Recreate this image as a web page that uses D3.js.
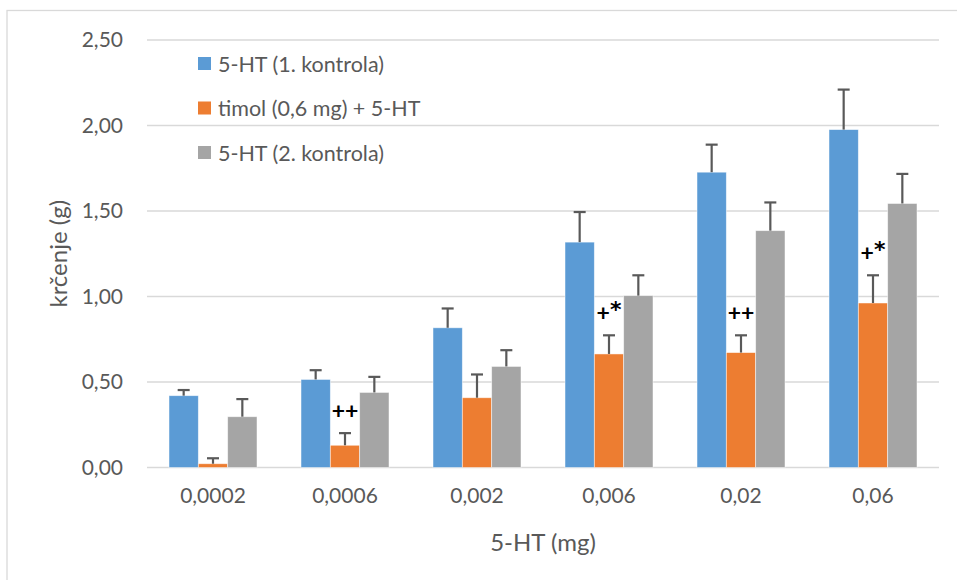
<!DOCTYPE html>
<html>
<head>
<meta charset="utf-8">
<script src="https://cdn.jsdelivr.net/npm/d3@7"></script>
<style>
  body { margin: 0; background: #fff; }
  text { font-family: Lato, "Open Sans", sans-serif; fill: #595959; }
</style>
</head>
<body>
<div id="chart"></div>
<script>
// doses on the x axis
var categories = ["0,0002", "0,0006", "0,002", "0,006", "0,02", "0,06"];
var seriesNames = ["5-HT (1. kontrola)", "timol (0,6 mg) + 5-HT", "5-HT (2. kontrola)"];
var seriesColors = ["#5B9BD5", "#ED7D31", "#A5A5A5"];

// means (g)
var kontrola1 = [0.42, 0.515, 0.817, 1.318, 1.727, 1.976];
var timol = [0.022, 0.13, 0.408, 0.664, 0.672, 0.962];
var kontrola2 = [0.297, 0.439, 0.591, 1.005, 1.385, 1.544];

// error (upper only)
var kontrola1Err = [0.033, 0.054, 0.113, 0.176, 0.161, 0.234];
var timolErr = [0.032, 0.071, 0.136, 0.109, 0.101, 0.162];
var kontrola2Err = [0.103, 0.091, 0.095, 0.119, 0.165, 0.173];

// significance marks above timol bars
var sigLabels = ["", "++", "", "+*", "++", "+*"];

var yTicks = [0, 0.5, 1, 1.5, 2, 2.5];

var width = 957, height = 580;
var margin = {top: 40, right: 18, bottom: 113, left: 147};

var svg = d3.select("#chart").append("svg")
    .attr("width", width)
    .attr("height", height);

// chart frame
svg.append("rect")
    .attr("x", 7).attr("y", 10.5)
    .attr("width", width).attr("height", height)
    .attr("fill", "none")
    .attr("stroke", "#D9D9D9")
    .attr("stroke-width", 1.3);

var x = d3.scaleBand()
    .domain(categories)
    .range([margin.left, width - margin.right])
    .paddingInner(1 / 3)
    .paddingOuter(1 / 6);

var xs = d3.scaleBand()
    .domain([0, 1, 2])
    .range([0, x.bandwidth()]);

var y = d3.scaleLinear()
    .domain([0, 2.5])
    .range([467.5, margin.top]);

// gridlines
svg.append("g").selectAll("line")
    .data(yTicks)
    .join("line")
    .attr("x1", margin.left).attr("x2", width - margin.right)
    .attr("y1", function(d) { return y(d); })
    .attr("y2", function(d) { return y(d); })
    .attr("stroke", "#D9D9D9")
    .attr("stroke-width", 1.3);

// y axis labels
var yAxis = svg.append("g")
    .attr("transform", "translate(" + margin.left + ",0)")
    .call(d3.axisLeft(y).tickValues(yTicks).tickSize(0).tickPadding(24)
        .tickFormat(function(d) { return d3.format(".2f")(d).replace(".", ","); }));
yAxis.select(".domain").remove();
yAxis.selectAll("text").attr("font-size", 21).style("fill", "#595959");

// x axis labels
var xAxis = svg.append("g")
    .attr("transform", "translate(0," + y(0) + ")")
    .call(d3.axisBottom(x).tickSize(0).tickPadding(21));
xAxis.select(".domain").remove();
xAxis.selectAll("text").attr("font-size", 21).style("fill", "#595959");

var series = [
  {vals: kontrola1, err: kontrola1Err},
  {vals: timol, err: timolErr},
  {vals: kontrola2, err: kontrola2Err}
];

var barData = [];
series.forEach(function(s, si) {
  categories.forEach(function(c, ci) {
    barData.push({cat: c, s: si, v: s.vals[ci], e: s.err[ci]});
  });
});

// bars
svg.append("g").selectAll("rect")
    .data(barData)
    .join("rect")
    .attr("x", function(d) { return x(d.cat) + xs(d.s); })
    .attr("y", function(d) { return y(d.v); })
    .attr("width", xs.bandwidth())
    .attr("height", function(d) { return y(0) - y(d.v); })
    .attr("fill", function(d) { return seriesColors[d.s]; })
    .attr("stroke", "#fff")
    .attr("stroke-opacity", 0.6)
    .attr("stroke-width", 0.8);

// error bars
var eb = svg.append("g").attr("stroke", "#595959").attr("stroke-width", 2.2);
eb.selectAll("line.v")
    .data(barData)
    .join("line")
    .attr("class", "v")
    .attr("x1", function(d) { return x(d.cat) + xs(d.s) + xs.bandwidth() / 2; })
    .attr("x2", function(d) { return x(d.cat) + xs(d.s) + xs.bandwidth() / 2; })
    .attr("y1", function(d) { return y(d.v); })
    .attr("y2", function(d) { return y(d.v + d.e); });
eb.selectAll("line.c")
    .data(barData)
    .join("line")
    .attr("class", "c")
    .attr("x1", function(d) { return x(d.cat) + xs(d.s) + xs.bandwidth() / 2 - 6; })
    .attr("x2", function(d) { return x(d.cat) + xs(d.s) + xs.bandwidth() / 2 + 6; })
    .attr("y1", function(d) { return y(d.v + d.e); })
    .attr("y2", function(d) { return y(d.v + d.e); });

// significance labels
var sig = svg.append("g").selectAll("text")
    .data(categories.map(function(c, i) { return {cat: c, lab: sigLabels[i], top: timol[i] + timolErr[i]}; })
        .filter(function(d) { return d.lab; }))
    .join("text")
    .attr("x", function(d) { return x(d.cat) + xs(1) + xs.bandwidth() / 2; })
    .attr("y", function(d) { return y(d.top) - 14; })
    .attr("text-anchor", "middle")
    .attr("font-size", 23)
    .attr("font-weight", "bold")
    .style("fill", "#000");
sig.each(function(d) {
  var t = d3.select(this);
  if (d.lab === "+*") {
    t.append("tspan").text("+");
    t.append("tspan").attr("dy", -4)
      .style("font-family", "'DejaVu Sans', sans-serif")
      .attr("font-size", 22).text("*");
  } else {
    t.text(d.lab);
  }
});

// legend
var legend = svg.append("g").selectAll("g")
    .data(seriesNames)
    .join("g")
    .attr("transform", function(d, i) { return "translate(198," + (64 + i * 44.5) + ")"; });
legend.append("rect")
    .attr("x", 0).attr("y", -7)
    .attr("width", 13).attr("height", 13)
    .attr("fill", function(d, i) { return seriesColors[i]; });
legend.append("text")
    .attr("x", 20).attr("y", 0)
    .attr("dy", "0.35em")
    .attr("font-size", 21.5)
    .text(function(d) { return d; });

// axis titles
svg.append("text")
    .attr("transform", "translate(59," + (y(0) + margin.top) / 2 + ") rotate(-90)")
    .attr("text-anchor", "middle")
    .attr("dy", "0.35em")
    .attr("font-size", 24)
    .text("krčenje (g)");

svg.append("text")
    .attr("x", (margin.left + width - margin.right) / 2)
    .attr("y", 543)
    .attr("text-anchor", "middle")
    .attr("dy", "0.35em")
    .attr("font-size", 24)
    .text("5-HT (mg)");
</script>
</body>
</html>
